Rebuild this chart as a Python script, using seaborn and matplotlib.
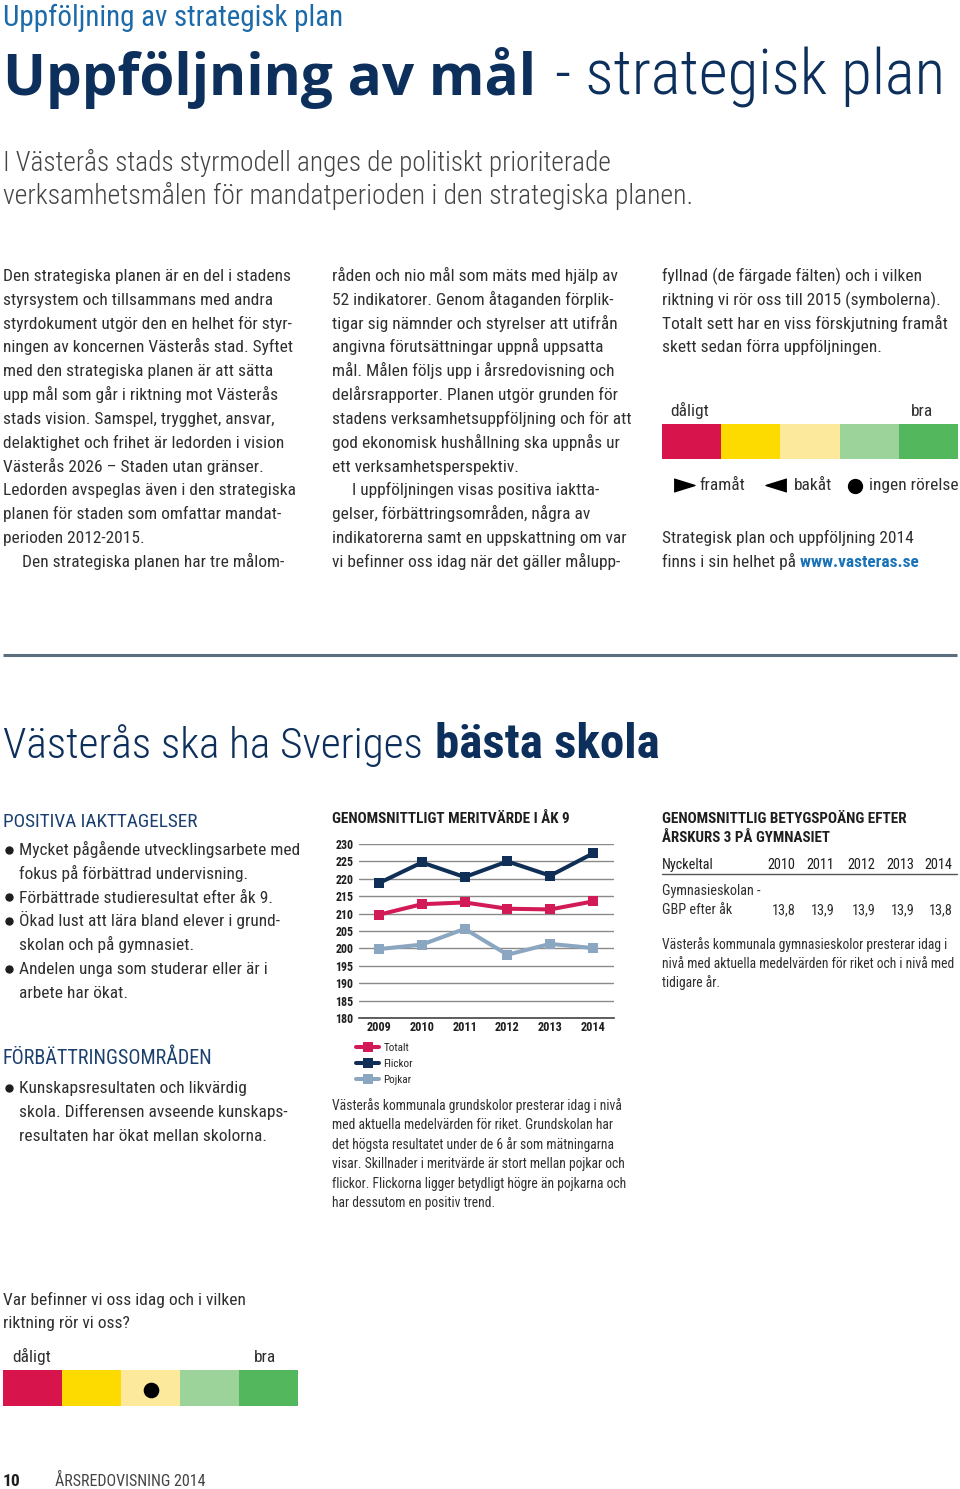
import matplotlib
matplotlib.use("Agg")
import matplotlib.pyplot as plt
import pandas as pd
import seaborn as sns
from matplotlib import font_manager
from matplotlib.colors import ListedColormap

# --- data -------------------------------------------------------------------
years = [2009, 2010, 2011, 2012, 2013, 2014]
totalt = [209.7, 212.7, 213.2, 211.4, 211.2, 213.5]
flickor = [218.8, 224.7, 220.5, 225.0, 220.9, 227.3]
pojkar = [199.8, 201.1, 205.6, 198.2, 201.3, 200.1]
series_names = ["Totalt", "Flickor", "Pojkar"]
series_colors = ["#d21a56", "#0f2f56", "#8ba6c0"]
y_ticks = [180, 185, 190, 195, 200, 205, 210, 215, 220, 225, 230]

gbp_years = ["2010", "2011", "2012", "2013", "2014"]
gbp_values = [13.8, 13.9, 13.9, 13.9, 13.8]

scale_colors = ["#d7144b", "#fddb00", "#fde99c", "#9cd39a", "#52b75d"]
scale_ends = ["dåligt", "bra"]
current_level = 2  # index of the field with the dot

# --- fonts / theme ------------------------------------------------------------
sns.set_theme(style="white")
available = {f.name for f in font_manager.fontManager.ttflist}
NARROW = next(
    (n for n in ("Roboto Condensed", "Liberation Sans Narrow",
                 "Open Sans Condensed", "DejaVu Sans Condensed")
     if n in available),
    "Liberation Sans",
)
WIDE = ["Open Sans", "Noto Sans", "DejaVu Sans"]
plt.rcParams["font.family"] = [NARROW, "DejaVu Sans"]

NAVY = "#0c2f5c"
BLUE = "#1c6aa9"
HEAD = "#1b3f6e"
BODY = "#2f2f2f"
DARK = "#1e1e1e"
LINK = "#1a73b8"
BS = 12.5  # body size

W, H = 960, 1489
fig = plt.figure(figsize=(W / 100, H / 100), dpi=100, facecolor="white")
page = fig.add_axes([0, 0, 1, 1])
page.set_xlim(0, W)
page.set_ylim(H, 0)
page.axis("off")
renderer = fig.canvas.get_renderer()


def txt(x, y, s, size=BS, color=BODY, weight="normal", **kw):
    return page.text(x, y, s, fontsize=size, color=color,
                     fontweight=weight, va="baseline", **kw)


def fit(x, y, s, width, size, **kw):
    # scale the font so the text spans the width measured on the reference
    t = txt(x, y, s, size=size, **kw)
    w = t.get_window_extent(renderer).width
    t.set_fontsize(size * width / w)
    return t


def runs(x, y, parts, size):
    for s, weight, color in parts:
        t = txt(x, y, s, size=size, color=color, weight=weight)
        x = t.get_window_extent(renderer).x1


def lines(x, y0, step, rows, size=BS, color=BODY, indent=None):
    for i, row in enumerate(rows):
        xx = indent.get(i, x) if indent else x
        txt(xx, y0 + i * step, row, size=size, color=color)


def bullets(y0, step, rows):
    ys = [y0 + i * step - 5.5 for i in rows]
    page.plot([9] * len(ys), ys, marker="o", markersize=5, color=DARK, ls="none")


def box(left, top, width, height):
    return fig.add_axes([left / W, 1 - (top + height) / H, width / W, height / H])


def color_scale(left, top, width, height):
    ax = box(left, top, width, height)
    sns.heatmap([list(range(len(scale_colors)))], cmap=ListedColormap(scale_colors),
                vmin=0, vmax=len(scale_colors) - 1, cbar=False, ax=ax,
                xticklabels=False, yticklabels=False, linewidths=0)
    ax.set_axis_off()
    return ax


# --- header -----------------------------------------------------------------
fit(3, 26, "Uppföljning av strategisk plan", 341, 19, color=BLUE)
fit(3, 95, "Uppföljning av mål", 534, 40, color=NAVY, weight="bold",
    family=WIDE)
fit(555, 95, "- strategisk plan", 390, 44, color=NAVY, weight="light")
fit(3, 171, "I Västerås stads styrmodell anges de politiskt prioriterade", 611,
    19, color="#444444", weight="light")
fit(3, 204, "verksamhetsmålen för mandatperioden i den strategiska planen.", 692,
    19, color="#444444", weight="light")

col1 = [
    "Den strategiska planen är en del i stadens",
    "styrsystem och tillsammans med andra",
    "styrdokument utgör den en helhet för styr-",
    "ningen av koncernen Västerås stad. Syftet",
    "med den strategiska planen är att sätta",
    "upp mål som går i riktning mot Västerås",
    "stads vision. Samspel, trygghet, ansvar,",
    "delaktighet och frihet är ledorden i vision",
    "Västerås 2026 – Staden utan gränser.",
    "Ledorden avspeglas även i den strategiska",
    "planen för staden som omfattar mandat-",
    "perioden 2012-2015.",
    "Den strategiska planen har tre målom-",
]
col2 = [
    "råden och nio mål som mäts med hjälp av",
    "52 indikatorer. Genom åtaganden förplik-",
    "tigar sig nämnder och styrelser att utifrån",
    "angivna förutsättningar uppnå uppsatta",
    "mål. Målen följs upp i årsredovisning och",
    "delårsrapporter. Planen utgör grunden för",
    "stadens verksamhetsuppföljning och för att",
    "god ekonomisk hushållning ska uppnås ur",
    "ett verksamhetsperspektiv.",
    "I uppföljningen visas positiva iaktta-",
    "gelser, förbättringsområden, några av",
    "indikatorerna samt en uppskattning om var",
    "vi befinner oss idag när det gäller målupp-",
]
col3 = [
    "fyllnad (de färgade fälten) och i vilken",
    "riktning vi rör oss till 2015 (symbolerna).",
    "Totalt sett har en viss förskjutning framåt",
    "skett sedan förra uppföljningen.",
]
lines(3, 281, 23.83, col1, indent={12: 22})
lines(332, 281, 23.83, col2, indent={9: 352})
lines(662, 281, 23.83, col3)

# scale legend, top right
txt(670, 416, scale_ends[0])
txt(933, 416, scale_ends[1], ha="right")
color_scale(662, 424, 296, 35)
tri = [(-1, -0.62), (1, 0), (-1, 0.62)]
page.plot([684], [485], marker=tri, markersize=15, color="black", ls="none")
page.plot([776], [485], marker=[(-x, y) for x, y in tri], markersize=15,
          color="black", ls="none")
page.plot([855], [486], marker="o", markersize=10, color="black", ls="none")
txt(699, 490, "framåt")
txt(794, 490, "bakåt")
txt(869, 490, "ingen rörelse")
txt(662, 543, "Strategisk plan och uppföljning 2014")
runs(662, 567, [("finns i sin helhet på", "normal", BODY),
                (" www.vasteras.se", "bold", LINK)], BS)

# rule
page.plot([3, 957], [655, 655], color="#5b6e7e", lw=2.2, solid_capstyle="butt")

# --- section ----------------------------------------------------------------
fit(3, 758, "Västerås ska ha Sveriges", 421, 33, color=NAVY, weight="light")
fit(435, 758, "bästa skola", 225, 33, color=NAVY, weight="bold")

fit(3, 827, "POSITIVA IAKTTAGELSER", 194, 13, color=HEAD)
pos = [
    "Mycket pågående utvecklingsarbete med",
    "fokus på förbättrad undervisning.",
    "Förbättrade studieresultat efter åk 9.",
    "Ökad lust att lära bland elever i grund-",
    "skolan och på gymnasiet.",
    "Andelen unga som studerar eller är i",
    "arbete har ökat.",
]
lines(19, 855, 23.8, pos)
bullets(855, 23.8, (0, 2, 3, 5))

fit(3, 1064, "FÖRBÄTTRINGSOMRÅDEN", 208, 13, color=HEAD)
imp = [
    "Kunskapsresultaten och likvärdig",
    "skola. Differensen avseende kunskaps-",
    "resultaten har ökat mellan skolorna.",
]
lines(19, 1093, 23.8, imp)
bullets(1093, 23.8, (0,))

# --- line chart -------------------------------------------------------------
fit(332, 823, "GENOMSNITTLIGT MERITVÄRDE I ÅK 9", 239, 10.5, color=DARK,
    weight="bold")
df = pd.DataFrame({
    "år": years * 3,
    "värde": totalt + flickor + pojkar,
    "serie": [n for n in series_names for _ in years],
})
ax = box(359, 844, 255, 174)
ax.patch.set_alpha(0)
sns.lineplot(data=df, x="år", y="värde", hue="serie", hue_order=series_names,
             palette=series_colors, marker="s", markersize=6.5, markeredgewidth=0,
             linewidth=2.9, ax=ax)
ax.set_xlim(2008.53, 2014.49)
ax.set_ylim(180, 230)
ax.set_yticks(y_ticks)
ax.set_xticks(years)
ax.set_xlabel("")
ax.set_ylabel("")
ax.yaxis.grid(True, color="#8a8a8a", lw=1)
ax.set_axisbelow(True)
for side in ("top", "left", "right"):
    ax.spines[side].set_visible(False)
ax.spines["bottom"].set_color("#444444")
ax.spines["bottom"].set_linewidth(1.2)
ax.tick_params(axis="y", length=0, pad=4, labelsize=8.6, labelcolor=DARK)
ax.tick_params(axis="x", length=0, pad=2.5, labelsize=8.8, labelcolor=DARK)
for lab in ax.get_xticklabels() + ax.get_yticklabels():
    lab.set_fontweight("bold")
ax.legend(loc="upper left", bbox_to_anchor=(356 / W, 1 - 1043 / H),
          bbox_transform=fig.transFigure, frameon=False, fontsize=8,
          handlelength=2.1, handletextpad=0.35, labelspacing=0.55,
          borderpad=0, borderaxespad=0)

grund = [
    "Västerås kommunala grundskolor presterar idag i nivå",
    "med aktuella medelvärden för riket. Grundskolan har",
    "det högsta resultatet under de 6 år som mätningarna",
    "visar. Skillnader i meritvärde är stort mellan pojkar och",
    "flickor. Flickorna ligger betydligt högre än pojkarna och",
    "har dessutom en positiv trend.",
]
lines(332, 1110, 19.4, grund, size=9.85)

# --- table ------------------------------------------------------------------
fit(662, 823, "GENOMSNITTLIG BETYGSPOÄNG EFTER", 244, 10.5, color=DARK,
    weight="bold")
txt(662, 842, "ÅRSKURS 3 PÅ GYMNASIET", size=10.8, color=DARK, weight="bold")
col_x = [781, 820, 861, 900, 938]
txt(662, 869, "Nyckeltal", size=10.3, color=DARK)
for cx, yr in zip(col_x, gbp_years):
    txt(cx, 869, yr, size=10.3, color=DARK, ha="center")
page.plot([662, 957], [873.5, 873.5], color="#555555", lw=1)
txt(662, 895, "Gymnasieskolan -", size=10.3)
txt(662, 914, "GBP efter åk", size=10.3)
for cx, v in zip(col_x, gbp_values):
    txt(cx + 3, 914, f"{v:.1f}".replace(".", ","), size=10.3, ha="center")
gymn = [
    "Västerås kommunala gymnasieskolor presterar idag i",
    "nivå med aktuella medelvärden för riket och i nivå med",
    "tidigare år.",
]
lines(662, 949, 19.2, gymn, size=9.85)

# --- bottom scale -----------------------------------------------------------
txt(3, 1305, "Var befinner vi oss idag och i vilken")
txt(3, 1328, "riktning rör vi oss?")
txt(12, 1362, scale_ends[0])
txt(276, 1362, scale_ends[1], ha="right")
sc = color_scale(3, 1370, 295, 36)
sc.scatter([current_level + 0.5], [0.55], s=105, color="black", zorder=3)

txt(3, 1486, "10", size=12.5, color=DARK, weight="bold")
txt(55, 1486, "ÅRSREDOVISNING 2014", size=11.5, color="#444444")

fig.savefig("out.png", dpi=100)
